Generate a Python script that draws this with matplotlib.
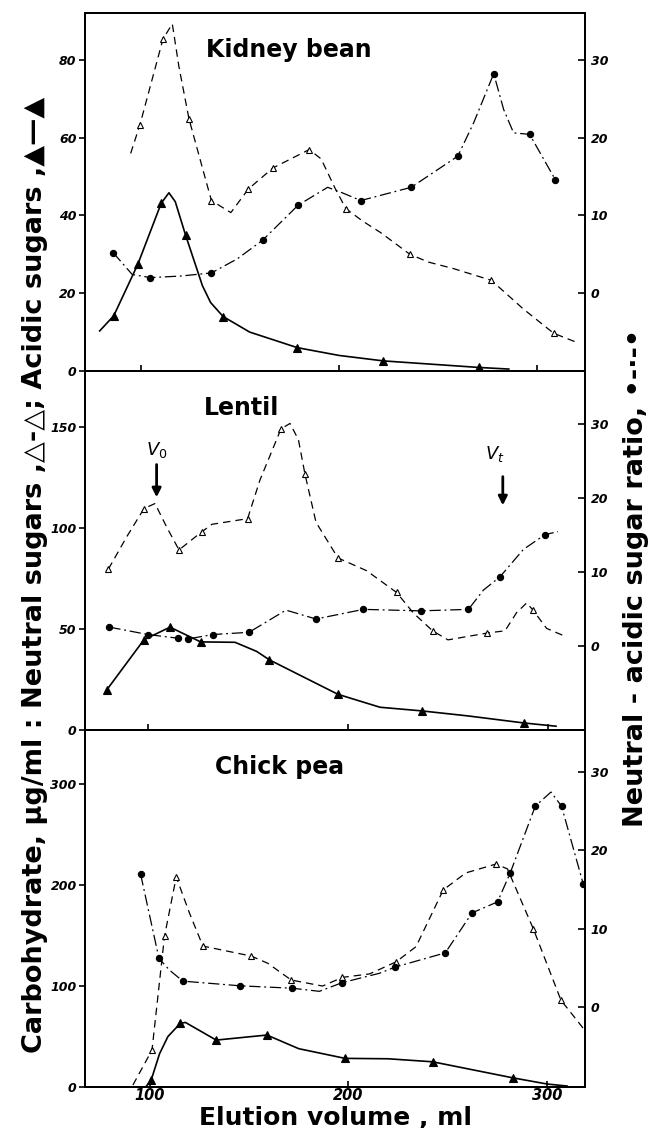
import matplotlib
matplotlib.use('Agg')
import matplotlib.pyplot as plt

plt.rcParams['font.family'] = ['DejaVu Sans']

# Elution volume (ml) and values.
# *_mark = 1 where a symbol sits on the curve, 0 for plain curve points.

# Kidney bean
kidney_neutral_ml = [95, 99.7, 111.3, 116, 119.3, 124.4, 135.7, 145.5, 154.4, 166.8, 185, 191, 198, 203.5, 212, 220.9, 235.7, 245, 257.8, 276.8, 293, 308.2, 319.6]
kidney_neutral = [55.9, 63.3, 85.3, 89.2, 78.3, 64.8, 43.8, 40.7, 46.8, 52.2, 56.9, 54.5, 47, 41.7, 38.5, 35.6, 30, 28, 26.3, 23.3, 15.9, 9.7, 7.4]
kidney_neutral_mark = [0, 1, 1, 0, 0, 1, 1, 0, 1, 1, 1, 0, 0, 1, 0, 0, 1, 0, 0, 1, 0, 1, 0]

kidney_acidic_ml = [79.4, 86.5, 98.6, 110.4, 114.3, 117.5, 122.7, 131.2, 135.3, 141.6, 155, 179, 200, 222.3, 270.8, 285.6]
kidney_acidic = [10.3, 14.2, 27.4, 43.1, 45.8, 43.5, 34.9, 21.9, 17.6, 14, 10, 6, 4, 2.6, 0.9, 0.5]
kidney_acidic_mark = [0, 1, 1, 1, 0, 0, 1, 0, 0, 1, 0, 1, 0, 1, 1, 0]

kidney_ratio_ml = [86.2, 95.8, 105, 120.2, 135.7, 148.7, 161.5, 179.4, 194.3, 201.6, 211, 236.4, 259.9, 267.9, 278, 283, 288, 296.1, 309]
kidney_ratio = [5.2, 2.4, 2.0, 2.2, 2.6, 4.4, 6.8, 11.3, 13.6, 12.9, 11.9, 13.6, 17.6, 21.9, 28.2, 23.6, 20.6, 20.4, 14.6]
kidney_ratio_mark = [1, 0, 1, 0, 1, 0, 1, 1, 0, 0, 1, 1, 1, 0, 1, 0, 0, 1, 1]

# Lentil
lentil_neutral_ml = [80.2, 89.3, 98, 103.5, 109.3, 115.5, 126.8, 132, 149.8, 156, 166.5, 171, 175.2, 178.5, 184, 195, 209.3, 224.3, 232.7, 242.3, 250, 269.7, 278.5, 284.3, 289.3, 292.3, 299.3, 307.3]
lentil_neutral = [79.8, 95.7, 109.8, 112.3, 100.7, 89.3, 98.2, 102, 104.8, 124, 149.3, 152, 144, 126.8, 103, 85.3, 79, 68.2, 58, 49.2, 44.7, 48.1, 49.2, 58.2, 63, 59.7, 50.4, 47]
lentil_neutral_mark = [1, 0, 1, 0, 0, 1, 1, 0, 1, 0, 1, 0, 0, 1, 0, 1, 0, 1, 0, 1, 0, 1, 0, 0, 0, 1, 0, 0]

lentil_acidic_ml = [79.3, 98, 111, 126.3, 143.5, 154.3, 160.7, 195, 216, 236.8, 260, 288, 304]
lentil_acidic = [19.8, 44.8, 51, 43.7, 43.5, 39, 34.8, 17.7, 11.3, 9.5, 7, 3.5, 1.9]
lentil_acidic_mark = [1, 1, 1, 1, 0, 0, 1, 1, 0, 1, 0, 1, 0]

lentil_ratio_ml = [80.7, 100, 115, 120, 132.3, 150.5, 169, 184, 207.7, 236.3, 260.2, 267.7, 276, 287.7, 298.5, 305]
lentil_ratio = [2.6, 1.6, 1.1, 1.0, 1.6, 1.9, 4.9, 3.7, 5.0, 4.8, 5.0, 7.6, 9.4, 13.1, 15.1, 15.5]
lentil_ratio_mark = [1, 1, 1, 1, 1, 1, 0, 1, 1, 1, 1, 0, 1, 0, 1, 0]

# Chick pea
chick_neutral_ml = [91.6, 101.2, 107.5, 113.4, 120.1, 126.8, 151.1, 159.5, 171.2, 187, 197, 210.6, 224, 234, 247.7, 259, 274.2, 280, 293, 306.9, 319.4]
chick_neutral = [2, 36.6, 149.5, 208, 172, 139.6, 129.7, 122.5, 106, 100, 108.6, 112, 124, 139, 195.2, 212, 220.8, 216, 156.7, 86, 55]
chick_neutral_mark = [0, 1, 1, 1, 0, 1, 1, 0, 1, 0, 1, 0, 1, 0, 1, 0, 1, 0, 1, 1, 0]

chick_acidic_ml = [98, 100.8, 105, 109.2, 115.4, 118, 133.5, 159, 175, 198.3, 220, 242.4, 283, 300, 310]
chick_acidic = [0, 7, 33, 50, 63, 64, 46.5, 51.5, 38, 28.4, 28, 25, 9, 3, 1]
chick_acidic_mark = [0, 1, 0, 0, 1, 0, 1, 1, 0, 1, 0, 1, 1, 0, 0]

chick_ratio_ml = [95.5, 104.7, 110, 116.7, 145.7, 171.5, 185.4, 196.8, 215.6, 223.6, 248.7, 262.2, 275, 281.4, 294, 301.9, 307.2, 318.1]
chick_ratio = [16.9, 6.2, 4.7, 3.3, 2.7, 2.4, 2.0, 3.1, 4.3, 5.1, 6.9, 12.0, 13.4, 17.1, 25.6, 27.4, 25.6, 15.7]
chick_ratio_mark = [1, 1, 0, 1, 1, 1, 0, 1, 0, 1, 1, 1, 1, 1, 1, 0, 1, 1]

# axis ranges / ticks for each panel
panel_names = ['Kidney bean', 'Lentil', 'Chick pea']
left_ticks = [[0, 20, 40, 60, 80], [0, 50, 100, 150], [0, 100, 200, 300]]
left_lims = [(0, 92), (0, 178), (0, 353.5)]
right_ticks = [0, 10, 20, 30]
right_lims = [(-10, 36), (-11.3, 37.2), (-10.2, 35.3)]
x_ticks = [100, 200, 300]
# the scanned panels are slightly skewed, so each has its own x range
x_lims = [(72, 324), (68.5, 318.5), (67.5, 319)]

series = [
    (kidney_neutral_ml, kidney_neutral, kidney_neutral_mark,
     kidney_acidic_ml, kidney_acidic, kidney_acidic_mark,
     kidney_ratio_ml, kidney_ratio, kidney_ratio_mark),
    (lentil_neutral_ml, lentil_neutral, lentil_neutral_mark,
     lentil_acidic_ml, lentil_acidic, lentil_acidic_mark,
     lentil_ratio_ml, lentil_ratio, lentil_ratio_mark),
    (chick_neutral_ml, chick_neutral, chick_neutral_mark,
     chick_acidic_ml, chick_acidic, chick_acidic_mark,
     chick_ratio_ml, chick_ratio, chick_ratio_mark),
]

dashed = (0, (6, 4))
dash_dot = (0, (9, 3, 1.5, 3))


def draw(ax, ml, vals, mark, ls, lw, marker, filled, ms):
    ax.plot(ml, vals, color='black', linestyle=ls, linewidth=lw)
    mx = [x for x, m in zip(ml, mark) if m]
    my = [y for y, m in zip(vals, mark) if m]
    ax.plot(mx, my, linestyle='none', marker=marker,
            markerfacecolor='black' if filled else 'white',
            markeredgecolor='black', markersize=ms, markeredgewidth=0.8)


fig = plt.figure(figsize=(6.48, 11.28), dpi=100)
ax_x0 = 85 / 648
ax_w = 500 / 648
panel_pos = [(0.6711, 0.3174), (0.3528, 0.3183), (0.0363, 0.3165)]
title_pos = [(0.408, 0.897), (0.314, 0.897), (0.39, 0.896)]

tick_font = dict(fontstyle='italic', fontweight='bold', fontsize=9)

for i in range(3):
    y0, h = panel_pos[i]
    ax = fig.add_axes([ax_x0, y0, ax_w, h])
    ax2 = ax.twinx()
    (n_ml, n_v, n_m, a_ml, a_v, a_m, r_ml, r_v, r_m) = series[i]

    draw(ax, n_ml, n_v, n_m, dashed, 0.9, '^', False, 5)
    draw(ax, a_ml, a_v, a_m, '-', 1.2, '^', True, 5.5)
    draw(ax2, r_ml, r_v, r_m, dash_dot, 0.9, 'o', True, 4.5)

    ax.set_xlim(*x_lims[i])
    ax.set_ylim(*left_lims[i])
    ax2.set_ylim(*right_lims[i])

    ax.set_yticks(left_ticks[i])
    ax.set_yticklabels([str(t) for t in left_ticks[i]], **tick_font)
    ax2.set_yticks(right_ticks)
    ax2.set_yticklabels([str(t) for t in right_ticks], **tick_font)
    ax.set_xticks(x_ticks)
    if i == 2:
        ax.set_xticklabels([str(t) for t in x_ticks], fontstyle='italic',
                           fontweight='bold', fontsize=10.5)
    else:
        ax.set_xticklabels([])

    ax.tick_params(axis='y', direction='out', length=4, width=1.2, pad=2)
    ax.tick_params(axis='x', direction='in', length=4, width=1.2, pad=1)
    ax2.tick_params(axis='y', direction='in', length=5, width=1.2, pad=4)
    for sp in list(ax.spines.values()) + list(ax2.spines.values()):
        sp.set_linewidth(1.4)

    ax.text(title_pos[i][0], title_pos[i][1], panel_names[i],
            transform=ax.transAxes, ha='center', va='center',
            fontsize=17, fontweight='bold')

    if i == 1:
        # void and total volume markers
        ax.annotate('', xy=(104.3, 114), xytext=(104.3, 133),
                    arrowprops=dict(arrowstyle='-|>', color='black', lw=2,
                                    mutation_scale=13))
        ax.text(104.5, 139, r'$V_0$', ha='center', va='center', fontsize=13)
        ax.annotate('', xy=(277.4, 110), xytext=(277.4, 127),
                    arrowprops=dict(arrowstyle='-|>', color='black', lw=2,
                                    mutation_scale=13))
        ax.text(273.5, 137, r'$V_t$', ha='center', va='center', fontsize=13)

fig.text(0.054, 0.49,
         'Carbohydrate, µg/ml : Neutral sugars ,△-△; Acidic sugars ,▲—▲',
         rotation=90, ha='center', va='center', fontsize=19.5, fontweight='bold')
fig.text(0.981, 0.488, 'Neutral - acidic sugar ratio, •-·-•',
         rotation=90, ha='center', va='center', fontsize=19.5, fontweight='bold')
fig.text(0.517, 0.0027, 'Elution volume , ml', ha='center', va='baseline',
         fontsize=18, fontweight='bold')

plt.savefig('out.png', dpi=100)
